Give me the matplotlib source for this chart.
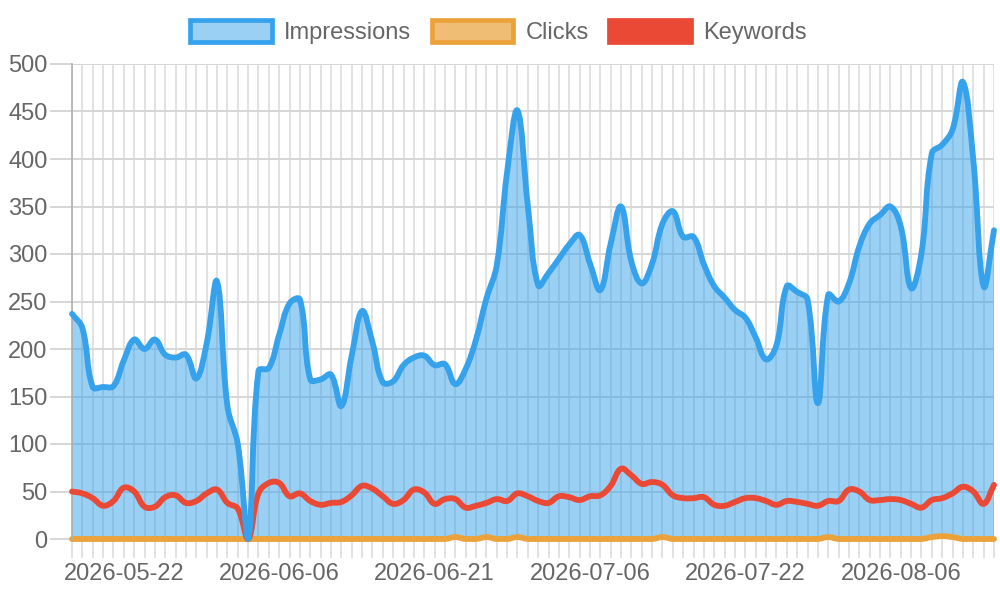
import numpy as np
import pandas as pd
import matplotlib
matplotlib.use("Agg")
import matplotlib.pyplot as plt
from matplotlib.path import Path
from matplotlib.patches import PathPatch, Rectangle

# dates (one day missing in July)
dates = pd.date_range("2026-05-17", "2026-08-15").drop(pd.Timestamp("2026-07-13"))
labels = [d.strftime("%Y-%m-%d") for d in dates]

impressions = [237, 222, 160, 160, 161, 188, 210, 200, 210, 194,
               191, 194, 169, 206, 271, 140, 100, 0, 177, 180,
               215, 248, 252, 168, 168, 173, 140, 193, 240, 207,
               165, 166, 183, 191, 193, 183, 184, 163, 179, 210,
               253, 288, 386, 451, 351, 267, 280, 295, 310, 320,
               290, 262, 311, 350, 292, 269, 290, 332, 345, 318,
               318, 289, 266, 254, 241, 233, 212, 189, 204, 266,
               260, 252, 143, 257, 250, 269, 308, 332, 341, 350,
               329, 264, 301, 406, 415, 431, 481, 399, 266, 325]
clicks = [0, 0, 0, 0, 0, 0, 0, 0, 0, 0,
          0, 0, 0, 0, 0, 0, 0, 0, 0, 0,
          0, 0, 0, 0, 0, 0, 0, 0, 0, 0,
          0, 0, 0, 0, 0, 0, 0, 2, 0, 0,
          2, 0, 0, 2, 0, 0, 0, 0, 0, 0,
          0, 0, 0, 0, 0, 0, 0, 2, 0, 0,
          0, 0, 0, 0, 0, 0, 0, 0, 0, 0,
          0, 0, 0, 2, 0, 0, 0, 0, 0, 0,
          0, 0, 0, 2, 3, 2, 0, 0, 0, 0]
keywords = [50, 48, 43, 35, 40, 54, 50, 34, 34, 44,
            46, 38, 40, 48, 52, 38, 32, 0, 48, 59,
            59, 45, 48, 40, 36, 38, 39, 46, 56, 53,
            45, 37, 41, 52, 49, 37, 42, 42, 33, 35,
            38, 42, 40, 48, 45, 40, 38, 45, 44, 41,
            45, 46, 56, 74, 67, 58, 60, 57, 46, 43,
            43, 44, 36, 35, 39, 43, 43, 40, 36, 40,
            39, 37, 35, 40, 40, 52, 50, 41, 41, 42,
            41, 37, 33, 41, 43, 48, 55, 50, 37, 57]

blue = "#36a2eb"
orange = "#eba23a"
red = "#ea4936"
grey = "#666666"
vgrid = "#e2e2e2"
hgrid = "#d6d6d6"

plt.rcParams["font.family"] = ["Liberation Sans", "DejaVu Sans"]

fig = plt.figure(figsize=(10, 6), dpi=100)
ax = fig.add_axes([0.072, 1 - 539 / 600, 0.922, 475 / 600])
x = np.arange(len(labels))
ax.set_xlim(0, len(labels) - 1)
ax.set_ylim(0, 500)


# chart.js style spline (tension 0.4), computed in pixel space
def spline(xs, ys, tension=0.4):
    pts = ax.transData.transform(np.column_stack([xs, ys]).astype(float))
    x0, y0, x1, y1 = ax.bbox.extents
    n = len(pts)
    cin, cout = [], []
    for i in range(n):
        prev = pts[i - 1] if i > 0 else pts[i]
        nxt = pts[i + 1] if i < n - 1 else pts[i]
        cur = pts[i]
        d01 = np.hypot(*(cur - prev))
        d12 = np.hypot(*(nxt - cur))
        tot = d01 + d12
        s01 = d01 / tot if tot else 0
        s12 = d12 / tot if tot else 0
        a = cur - tension * s01 * (nxt - prev)
        b = cur + tension * s12 * (nxt - prev)
        a = np.clip(a, [x0, y0], [x1, y1])
        b = np.clip(b, [x0, y0], [x1, y1])
        cin.append(a)
        cout.append(b)
    verts = [pts[0]]
    codes = [Path.MOVETO]
    for i in range(n - 1):
        verts += [cout[i], cin[i + 1], pts[i + 1]]
        codes += [Path.CURVE4] * 3
    verts = ax.transData.inverted().transform(np.array(verts))
    return verts, codes


# impressions area
v, c = spline(x, impressions)
area = np.vstack([v, [[x[-1], 0], [x[0], 0], [x[0], 0]]])
area_codes = c + [Path.LINETO, Path.LINETO, Path.CLOSEPOLY]
ax.add_patch(PathPatch(Path(area, area_codes), facecolor=blue, alpha=0.5,
                       edgecolor="none", zorder=1))

for data, col, z in [(clicks, orange, 2), (keywords, red, 3), (impressions, blue, 4)]:
    v, c = spline(x, data)
    ax.add_patch(PathPatch(Path(v, c), facecolor="none", edgecolor=col,
                           lw=4.2, zorder=z, clip_on=False, capstyle="round",
                           joinstyle="round"))

# axes
ax.set_xticks(x)
ax.set_xticklabels([lab if i % 15 == 5 else "" for i, lab in enumerate(labels)])
ax.set_yticks(range(0, 501, 50))
ax.tick_params(axis="x", length=14, width=1.4, color=vgrid, pad=3,
               labelsize=17, labelcolor=grey)
ax.tick_params(axis="y", length=16, width=1.4, color=hgrid, pad=1.5,
               labelsize=17, labelcolor=grey)
ax.set_axisbelow(True)
ax.grid(True, axis="x", color=vgrid, lw=1.4)
ax.grid(True, axis="y", color=hgrid, lw=1.4)
for s in ["top", "right", "bottom"]:
    ax.spines[s].set_visible(False)
ax.spines["left"].set_color("#b0b0b0")
ax.spines["left"].set_linewidth(1.2)

handles = [
    Rectangle((0, 0), 1, 1, facecolor=(54 / 255, 162 / 255, 235 / 255, 0.5),
              edgecolor=blue, lw=3.4),
    Rectangle((0, 0), 1, 1, facecolor=(235 / 255, 162 / 255, 58 / 255, 0.7),
              edgecolor=orange, lw=3.4),
    Rectangle((0, 0), 1, 1, facecolor=red, edgecolor=red, lw=3.4),
]
fig.legend(handles, ["Impressions", "Clicks", "Keywords"], loc="center",
           bbox_to_anchor=(0.4985, 0.946), ncol=3, frameon=False,
           fontsize=17, labelcolor=grey, handlelength=3.47, handleheight=1.04,
           handletextpad=0.52, columnspacing=0.86, borderpad=0)

fig.savefig("out.png", dpi=100)
